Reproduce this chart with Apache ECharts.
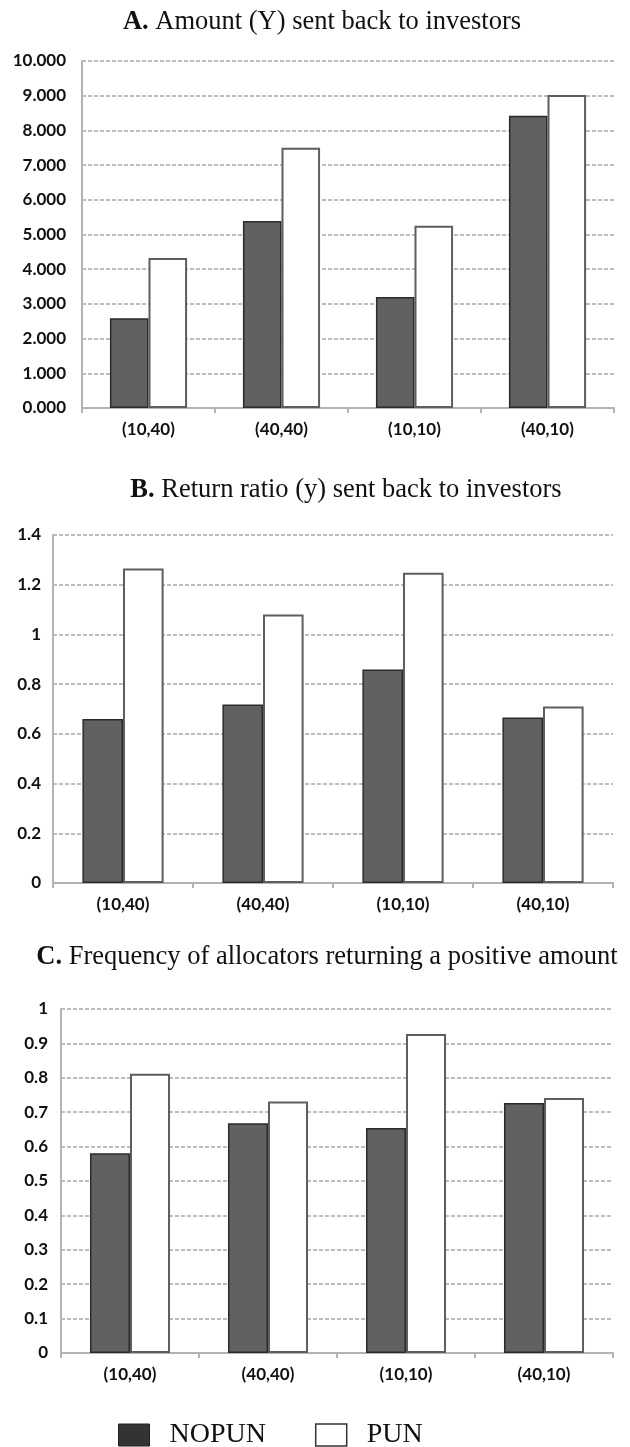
<!DOCTYPE html>
<html>
<head>
<meta charset="utf-8">
<script src="https://cdn.jsdelivr.net/npm/echarts@6/dist/echarts.min.js"></script>
<style>
html,body{margin:0;padding:0;background:#fff;}
#c{width:630px;height:1447px;}
</style>
</head>
<body>
<div id="c"></div>
<script>
// ---- data ----
var categories = ['(10,40)', '(40,40)', '(10,10)', '(40,10)'];
var seriesNames = ['NOPUN', 'PUN'];
// A. Amount (Y) sent back to investors
var amountNOPUN = [2.59, 5.39, 3.20, 8.42];
var amountPUN   = [4.32, 7.50, 5.25, 9.02];
// B. Return ratio (y) sent back to investors
var ratioNOPUN = [0.660, 0.718, 0.859, 0.666];
var ratioPUN   = [1.265, 1.080, 1.248, 0.710];
// C. Frequency of allocators returning a positive amount
var freqNOPUN = [0.581, 0.668, 0.654, 0.727];
var freqPUN   = [0.812, 0.731, 0.927, 0.741];
var titles = [
  ['A.', 'Amount (Y) sent back to investors'],
  ['B.', 'Return ratio (y) sent back to investors'],
  ['C.', 'Frequency of allocators returning a positive amount']
];
var yMax = [10, 1.4, 1];
var yInterval = [1, 0.2, 0.1];

// ---- layout / style ----
var grids = [
  {left: 82, right: 16, top: 61, height: 347},
  {left: 53, right: 17, top: 535, height: 348},
  {left: 61, right: 17, top: 1009, height: 344}
];
var titlePos = [{x: 322, y: 9}, {x: 346, y: 477}, {x: 327, y: 944}];
var labelMargins = [16, 12, 13];
var axisFont = 'Lato, "Open Sans", sans-serif';
var serif = '"Liberation Serif", "Times New Roman", serif';

var darkStyle = {color: '#616161', borderColor: '#2b2b2b', borderWidth: 1.5};
var whiteStyle = {color: '#ffffff', borderColor: '#5e5e5e', borderWidth: 2};

var dataSets = [[amountNOPUN, amountPUN], [ratioNOPUN, ratioPUN], [freqNOPUN, freqPUN]];

var option = {
  backgroundColor: '#fff',
  animation: false,
  title: titles.map(function (t, i) {
    return {
      text: '{b|' + t[0] + '} ' + t[1],
      left: titlePos[i].x,
      top: titlePos[i].y,
      textAlign: 'center',
      padding: 0,
      textStyle: {
        fontFamily: serif, fontSize: 26.5, fontWeight: 'normal', color: '#111',
        rich: {b: {fontFamily: serif, fontSize: 26.5, fontWeight: 'bold', color: '#111'}}
      }
    };
  }),
  legend: {
    left: 118, top: 1421, padding: 0,
    itemWidth: 31, itemHeight: 22, itemGap: 49,
    icon: 'rect',
    textStyle: {fontFamily: serif, fontSize: 28, lineHeight: 22, color: '#111', padding: [0, 0, 0, 15]},
    data: [
      {name: 'NOPUN', itemStyle: {color: '#333333', borderColor: '#222', borderWidth: 1}},
      {name: 'PUN', itemStyle: {color: '#ffffff', borderColor: '#333', borderWidth: 1.5}}
    ]
  },
  grid: grids,
  xAxis: grids.map(function (g, i) {
    return {
      type: 'category', gridIndex: i, data: categories,
      axisLine: {lineStyle: {color: '#b3b3b3', width: 2}},
      axisTick: {show: true, length: 5, lineStyle: {color: '#b3b3b3', width: 2}},
      axisLabel: {fontFamily: axisFont, fontSize: 17, fontWeight: 'bold', color: '#111', margin: 13}
    };
  }),
  yAxis: grids.map(function (g, i) {
    return {
      type: 'value', gridIndex: i, min: 0, max: yMax[i], interval: yInterval[i],
      axisLine: {show: true, lineStyle: {color: '#b3b3b3', width: 2}},
      axisTick: {show: false},
      splitLine: {lineStyle: {color: '#bdbdbd', width: 2, type: [4, 2]}},
      axisLabel: {
        fontFamily: axisFont, fontSize: 17, fontWeight: 'bold', color: '#111', margin: labelMargins[i],
        formatter: i === 0 ? function (v) { return v.toFixed(3); } : null
      }
    };
  }),
  series: []
};

dataSets.forEach(function (pair, i) {
  option.series.push({
    name: seriesNames[0], type: 'bar', xAxisIndex: i, yAxisIndex: i,
    data: pair[0], barGap: '0%', barCategoryGap: '42%', itemStyle: darkStyle
  });
  option.series.push({
    name: seriesNames[1], type: 'bar', xAxisIndex: i, yAxisIndex: i,
    data: pair[1], barGap: '0%', barCategoryGap: '42%', itemStyle: whiteStyle
  });
});

var chart = echarts.init(document.getElementById('c'), null, {renderer: 'canvas'});
chart.setOption(option);
</script>
</body>
</html>
